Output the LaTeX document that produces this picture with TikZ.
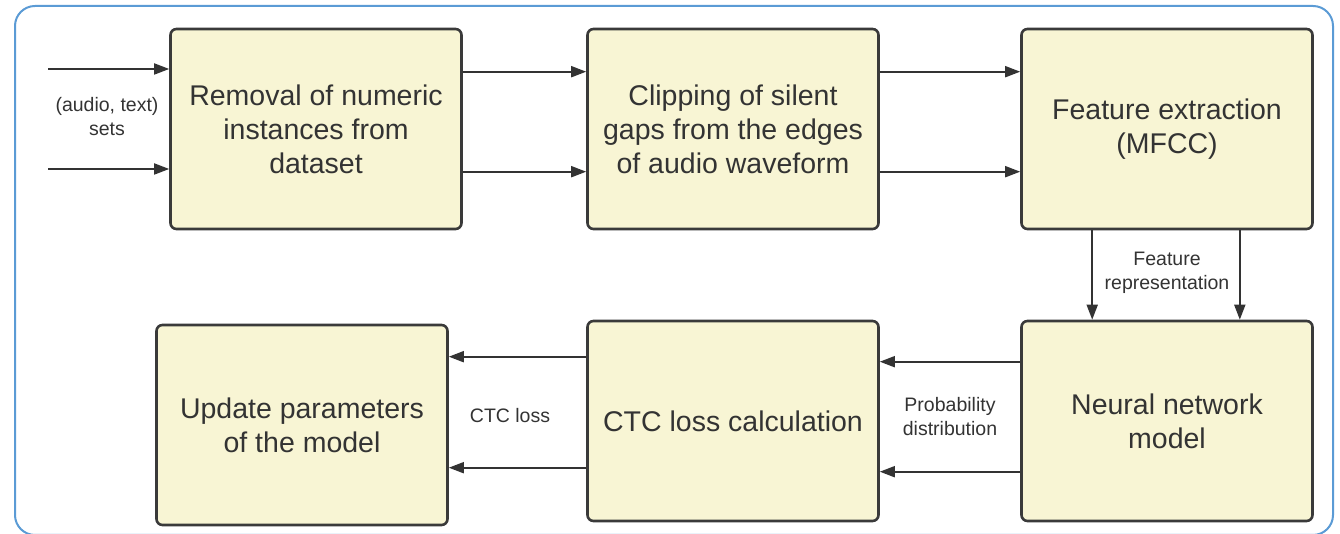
\documentclass[tikz,border=0pt]{standalone}
\usepackage{fontspec}
\setmainfont{Liberation Sans}
\usepackage{tikz}
\usetikzlibrary{arrows.meta,positioning}
\definecolor{boxfill}{HTML}{F8F5D4}
\definecolor{boxline}{HTML}{3A3A3A}
\definecolor{framecol}{HTML}{5B9BD5}
\definecolor{txtcol}{HTML}{333333}
\tikzset{
  stage/.style={rectangle, rounded corners=6pt, draw=boxline, line width=2.6pt, fill=boxfill,
                text=txtcol, align=center, font=\fontsize{28.5}{34}\selectfont,
                minimum width=291pt, minimum height=200pt, inner sep=0pt},
  lbl/.style={text=txtcol, align=center, font=\fontsize{19.5}{24}\selectfont},
  arr/.style={-{Triangle[length=15pt,width=11pt]}, line width=1.8pt, draw=txtcol},
}
\begin{document}
\begin{tikzpicture}[x=1pt, y=1pt]
\useasboundingbox (0,0) rectangle (1340,534);

% Outer frame
\draw[framecol, line width=2pt, rounded corners=20pt] (15,-1) rectangle (1333,528);

% Top row
\node[stage] (removal) at (316,405) {Removal of numeric\\instances from\\dataset};
\node[stage, right=123.4pt of removal] (clipping) {Clipping of silent\\gaps from the edges\\of audio waveform};
\node[stage, right=140.4pt of clipping] (feature) {Feature extraction\\(MFCC)};

% Bottom row
\node[stage, below=89.4pt of feature] (neural) {Neural network\\model};
\node[stage, left=140.4pt of neural] (ctc) {CTC loss calculation};
\node[stage, left=137.4pt of ctc, yshift=-4pt] (update) {Update parameters\\of the model};

% Inputs
\coordinate (in1) at (48,465);
\coordinate (in2) at (48,365);
\draw[arr] (in1) -- (in1 -| removal.west);
\draw[arr] (in2) -- (in2 -| removal.west);
\node[lbl] (sets) at (107,417) {(audio, text)\\sets};

% Arrows
\draw[arr] ([yshift=-44pt]removal.north east) -- ([yshift=-44pt]clipping.north west);
\draw[arr] ([yshift=-144pt]removal.north east) -- ([yshift=-144pt]clipping.north west);
\draw[arr] ([yshift=-44pt]clipping.north east) -- ([yshift=-44pt]feature.north west);
\draw[arr] ([yshift=-144pt]clipping.north east) -- ([yshift=-144pt]feature.north west);
\draw[arr] ([xshift=72pt]feature.south west) -- ([xshift=72pt]neural.north west);
\draw[arr] ([xshift=-74pt]feature.south east) -- ([xshift=-74pt]neural.north east);
\draw[arr] ([yshift=-42pt]neural.north west) -- ([yshift=-42pt]ctc.north east);
\draw[arr] ([yshift=-152pt]neural.north west) -- ([yshift=-152pt]ctc.north east);
\draw[arr] ([yshift=-37pt]ctc.north west) -- ([yshift=-33pt]update.north east);
\draw[arr] ([yshift=-148pt]ctc.north west) -- ([yshift=-144pt]update.north east);

% Labels
\node[lbl] (featrep) at (1167,261.5) {Feature\\representation};
\node[lbl] (prob) at (950,117) {Probability\\distribution};
\node[lbl] (ctcloss) at (510,118) {CTC loss};

\end{tikzpicture}
\end{document}
